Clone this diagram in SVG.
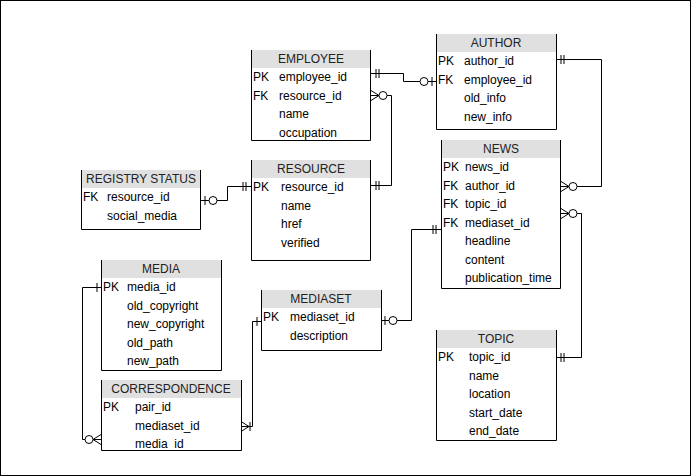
<svg xmlns="http://www.w3.org/2000/svg" width="691" height="476" viewBox="0 0 691 476">
<style>
.hdr{fill:#e0e0e0;stroke:none}
.box{fill:none;stroke:#000;stroke-width:1}
.t{font-family:"Liberation Sans",Arial,sans-serif;font-size:12px;fill:#000;dominant-baseline:central}
.h{font-family:"Liberation Sans",Arial,sans-serif;font-size:12px;fill:#222;text-anchor:middle;dominant-baseline:central}
.c{fill:none;stroke:#000;stroke-width:1}
.m{fill:none;stroke:#000;stroke-width:1}
.o{fill:#fff;stroke:#000;stroke-width:1}
</style>
<defs>
<marker id="mandOne" markerUnits="userSpaceOnUse" orient="auto-start-reverse" refX="0" refY="0" markerWidth="20" markerHeight="20" overflow="visible">
<path class="m" d="M-5,-4.5V4.5M-8,-4.5V4.5"/>
</marker>
<marker id="one" markerUnits="userSpaceOnUse" orient="auto-start-reverse" refX="0" refY="0" markerWidth="20" markerHeight="20" overflow="visible">
<path class="m" d="M-4,-4.5V4.5"/>
</marker>
<marker id="zeroOne" markerUnits="userSpaceOnUse" orient="auto-start-reverse" refX="0" refY="0" markerWidth="20" markerHeight="20" overflow="visible">
<path class="m" d="M-4,-4.5V4.5"/>
<circle class="o" cx="-12" cy="0" r="4"/>
</marker>
<marker id="zeroMany" markerUnits="userSpaceOnUse" orient="auto-start-reverse" refX="0" refY="0" markerWidth="20" markerHeight="20" overflow="visible">
<path class="m" d="M0,-5L-8,0L0,5"/>
<circle class="o" cx="-12" cy="0" r="4"/>
</marker>
<marker id="oneMany" markerUnits="userSpaceOnUse" orient="auto-start-reverse" refX="0" refY="0" markerWidth="20" markerHeight="20" overflow="visible">
<path class="m" d="M0,-5L-8,0L0,5M-9,-4.5V4.5"/>
</marker>
</defs>
<rect x="0.5" y="0.5" width="690" height="475" fill="#fff" stroke="#000"/>

<g id="connectors">
<polyline class="c" points="371,73.5 403.5,73.5 403.5,81.5 436,81.5" marker-start="url(#mandOne)" marker-end="url(#zeroOne)"/>
<polyline class="c" points="371,95.5 391.5,95.5 391.5,185.5 371,185.5" marker-start="url(#zeroMany)" marker-end="url(#mandOne)"/>
<polyline class="c" points="201,200.5 227.5,200.5 227.5,186.5 251,186.5" marker-start="url(#zeroOne)" marker-end="url(#mandOne)"/>
<polyline class="c" points="556,59.5 601.5,59.5 601.5,186.5 561,186.5" marker-start="url(#mandOne)" marker-end="url(#zeroMany)"/>
<polyline class="c" points="561,213.5 581.5,213.5 581.5,357.5 556,357.5" marker-start="url(#zeroMany)" marker-end="url(#mandOne)"/>
<polyline class="c" points="381,320.5 411.5,320.5 411.5,229.5 441,229.5" marker-start="url(#zeroOne)" marker-end="url(#mandOne)"/>
<polyline class="c" points="101,287.5 82.5,287.5 82.5,439.5 101,439.5" marker-start="url(#one)" marker-end="url(#zeroMany)"/>
<polyline class="c" points="261,321.5 252.5,321.5 252.5,426.5 241,426.5" marker-start="url(#one)" marker-end="url(#oneMany)"/>
</g>

<g id="employee">
<rect class="hdr" x="251" y="50" width="120" height="18"/>
<path class="box" d="M251.5,50V140.5H370.5V50"/>
<text class="h" x="311" y="59">EMPLOYEE</text>
<text class="t" x="253" y="77">PK</text><text class="t" x="279" y="77">employee_id</text>
<text class="t" x="253" y="95.5">FK</text><text class="t" x="279" y="95.5">resource_id</text>
<text class="t" x="279" y="114">name</text>
<text class="t" x="279" y="132.5">occupation</text>
</g>

<g id="author">
<rect class="hdr" x="436" y="34" width="120" height="18"/>
<path class="box" d="M436.5,34V129.5H556.5V34"/>
<text class="h" x="496" y="43">AUTHOR</text>
<text class="t" x="438" y="61">PK</text><text class="t" x="464" y="61">author_id</text>
<text class="t" x="438" y="79.5">FK</text><text class="t" x="464" y="79.5">employee_id</text>
<text class="t" x="464" y="98">old_info</text>
<text class="t" x="464" y="116.5">new_info</text>
</g>

<g id="news">
<rect class="hdr" x="441" y="140" width="120" height="18"/>
<path class="box" d="M441.5,140V288.5H560.5V140"/>
<text class="h" x="501" y="149">NEWS</text>
<text class="t" x="443" y="167">PK</text><text class="t" x="465" y="167">news_id</text>
<text class="t" x="443" y="185.5">FK</text><text class="t" x="465" y="185.5">author_id</text>
<text class="t" x="443" y="204">FK</text><text class="t" x="465" y="204">topic_id</text>
<text class="t" x="443" y="222.5">FK</text><text class="t" x="465" y="222.5">mediaset_id</text>
<text class="t" x="465" y="241">headline</text>
<text class="t" x="465" y="259.5">content</text>
<text class="t" x="465" y="278">publication_time</text>
</g>

<g id="registry-status">
<rect class="hdr" x="81" y="170" width="120" height="18"/>
<path class="box" d="M81.5,170V229.5H200.5V170"/>
<text class="h" x="141" y="179">REGISTRY STATUS</text>
<text class="t" x="83" y="197">FK</text><text class="t" x="107" y="197">resource_id</text>
<text class="t" x="107" y="215.5">social_media</text>
</g>

<g id="resource">
<rect class="hdr" x="251" y="160" width="120" height="18"/>
<path class="box" d="M251.5,160V260.5H370.5V160"/>
<text class="h" x="311" y="169">RESOURCE</text>
<text class="t" x="253" y="187">PK</text><text class="t" x="281" y="187">resource_id</text>
<text class="t" x="281" y="205.5">name</text>
<text class="t" x="281" y="224">href</text>
<text class="t" x="281" y="242.5">verified</text>
</g>

<g id="media">
<rect class="hdr" x="101" y="260" width="120" height="18"/>
<path class="box" d="M101.5,260V370.5H221.5V260"/>
<text class="h" x="161" y="269">MEDIA</text>
<text class="t" x="103" y="287">PK</text><text class="t" x="127" y="287">media_id</text>
<text class="t" x="127" y="305.5">old_copyright</text>
<text class="t" x="127" y="324">new_copyright</text>
<text class="t" x="127" y="342.5">old_path</text>
<text class="t" x="127" y="361">new_path</text>
</g>

<g id="correspondence">
<rect class="hdr" x="101" y="380" width="140" height="18"/>
<path class="box" d="M101.5,380V450.5H241.5V380"/>
<text class="h" x="171" y="389">CORRESPONDENCE</text>
<text class="t" x="103" y="407">PK</text><text class="t" x="135" y="407">pair_id</text>
<text class="t" x="135" y="425.5">mediaset_id</text>
<text class="t" x="135" y="444">media_id</text>
</g>

<g id="mediaset">
<rect class="hdr" x="261" y="290" width="120" height="18"/>
<path class="box" d="M261.5,290V350.5H381.5V290"/>
<text class="h" x="321" y="299">MEDIASET</text>
<text class="t" x="263" y="317">PK</text><text class="t" x="290" y="317">mediaset_id</text>
<text class="t" x="290" y="335.5">description</text>
</g>

<g id="topic">
<rect class="hdr" x="436" y="330" width="120" height="18"/>
<path class="box" d="M436.5,330V440.5H556.5V330"/>
<text class="h" x="496" y="339">TOPIC</text>
<text class="t" x="438" y="357">PK</text><text class="t" x="469" y="357">topic_id</text>
<text class="t" x="469" y="375.5">name</text>
<text class="t" x="469" y="394">location</text>
<text class="t" x="469" y="412.5">start_date</text>
<text class="t" x="469" y="431">end_date</text>
</g>
</svg>
